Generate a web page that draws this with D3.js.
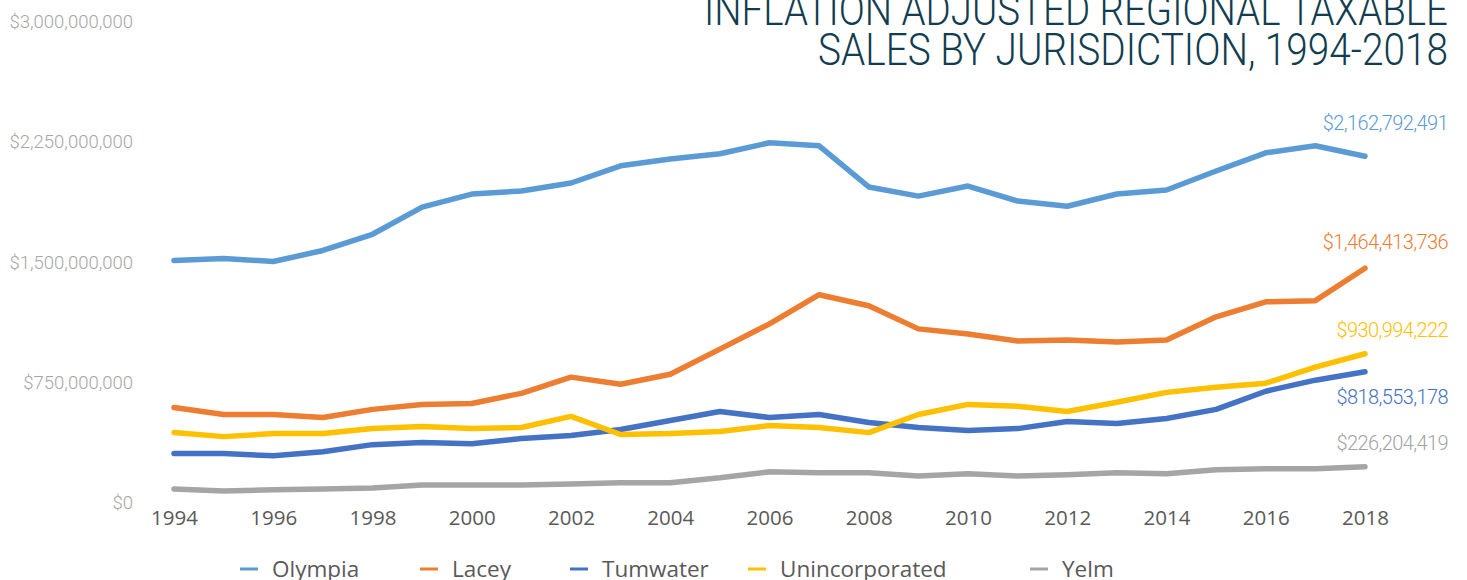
<!DOCTYPE html>
<html>
<head>
<meta charset="utf-8">
<script src="https://cdn.jsdelivr.net/npm/d3@7"></script>
<style>
  html, body { margin: 0; padding: 0; background: #ffffff; }
  svg { display: block; }
</style>
</head>
<body>
<div id="chart"></div>
<script>
// Taxable sales by jurisdiction, inflation adjusted (dollars)
const years = d3.range(1994, 2019);
const seriesNames = ["Olympia", "Lacey", "Tumwater", "Unincorporated", "Yelm"];
const seriesColors = ["#5b9bd5", "#ed7d31", "#4472c4", "#ffc000", "#a5a5a5"];

const olympia = [1513e6, 1525e6, 1506e6, 1575e6, 1676e6, 1845e6, 1927e6, 1946e6, 1996e6, 2103e6, 2146e6, 2178e6, 2247e6, 2228e6, 1971e6, 1914e6, 1977e6, 1883e6, 1851e6, 1927e6, 1952e6, 2071e6, 2184e6, 2228e6, 2162792491];
const lacey = [596e6, 552e6, 552e6, 533e6, 584e6, 615e6, 621e6, 684e6, 785e6, 741e6, 803e6, 960e6, 1117e6, 1299e6, 1230e6, 1086e6, 1054e6, 1010e6, 1017e6, 1004e6, 1017e6, 1161e6, 1255e6, 1262e6, 1464413736];
const tumwater = [308e6, 308e6, 295e6, 320e6, 364e6, 377e6, 370e6, 402e6, 421e6, 458e6, 515e6, 571e6, 533e6, 552e6, 502e6, 471e6, 452e6, 464e6, 508e6, 496e6, 527e6, 584e6, 697e6, 766e6, 818553178];
const unincorporated = [439e6, 414e6, 433e6, 433e6, 464e6, 477e6, 464e6, 471e6, 540e6, 427e6, 433e6, 446e6, 483e6, 471e6, 439e6, 552e6, 615e6, 603e6, 571e6, 628e6, 690e6, 722e6, 747e6, 847e6, 930994222];
const yelm = [88e6, 75e6, 82e6, 88e6, 94e6, 113e6, 113e6, 113e6, 119e6, 126e6, 126e6, 157e6, 195e6, 188e6, 188e6, 169e6, 182e6, 169e6, 176e6, 188e6, 182e6, 207e6, 213e6, 213e6, 226204419];

const yTicks = [0, 750e6, 1500e6, 2250e6, 3000e6];
const xTicks = d3.range(1994, 2019, 2);
const titleLines = ["INFLATION ADJUSTED REGIONAL TAXABLE", "SALES BY JURISDICTION, 1994-2018"];

const seriesValues = [olympia, lacey, tumwater, unincorporated, yelm];
const series = seriesNames.map((name, i) => ({
  name,
  color: seriesColors[i],
  values: seriesValues[i].map((v, j) => ({ year: years[j], value: v }))
}));

const W = 1467, H = 580;
const svg = d3.select("#chart").append("svg")
  .attr("width", W).attr("height", H);

const x = d3.scaleLinear().domain([1994, 2018]).range([174, 1365]);
const y = d3.scaleLinear().domain([0, 3000e6]).range([503, 22]);

// Y axis labels (no axis line, no gridlines)
const yAxis = d3.axisLeft(y)
  .tickValues(yTicks)
  .tickSize(0)
  .tickPadding(0)
  .tickFormat(d => "$" + d3.format(",")(d));
const gy = svg.append("g").attr("transform", "translate(133,0)").call(yAxis);
gy.select(".domain").remove();
gy.selectAll("text")
  .attr("fill", "#a6a6a6")
  .attr("dy", "0.3em")
  .style("font-family", "Roboto, sans-serif")
  .style("font-weight", "300")
  .style("font-size", "18.5px");

// X axis labels
const xAxis = d3.axisBottom(x)
  .tickValues(xTicks)
  .tickSize(0)
  .tickPadding(0)
  .tickFormat(d3.format("d"));
const gx = svg.append("g").attr("transform", "translate(0,510)").call(xAxis);
gx.select(".domain").remove();
gx.selectAll("text")
  .attr("fill", "#595959")
  .attr("dy", "0.71em")
  .style("font-family", "'Open Sans', sans-serif")
  .style("font-size", "20.5px");

// Lines
const line = d3.line()
  .x(d => x(d.year))
  .y(d => y(d.value));

svg.append("g").selectAll("path")
  .data(series)
  .join("path")
  .attr("d", d => line(d.values))
  .attr("fill", "none")
  .attr("stroke", d => d.color)
  .attr("stroke-width", 5.5)
  .attr("stroke-linejoin", "round")
  .attr("stroke-linecap", "round");

// Final-value labels at the right edge
const endLabelY = { Olympia: 123, Lacey: 242, Tumwater: 397, Unincorporated: 330, Yelm: 443 };
svg.append("g").selectAll("text")
  .data(series)
  .join("text")
  .attr("x", 1448)
  .attr("y", d => endLabelY[d.name])
  .attr("dy", "0.35em")
  .attr("text-anchor", "end")
  .attr("fill", d => d.color === "#a5a5a5" ? "#a3a3a3" : d.color)
  .style("font-family", "Roboto, sans-serif")
  .style("font-weight", "300")
  .style("font-size", "20px")
  .style("letter-spacing", "-0.6px")
  .text(d => "$" + d3.format(",")(d.values[d.values.length - 1].value));

// Title, right aligned
const title = svg.append("g");
const titleWidths = [744, 630];
titleLines.forEach((t, i) => {
  title.append("text")
    .attr("x", 1448)
    .attr("y", 25 + i * 40)
    .attr("text-anchor", "end")
    .attr("fill", "#123d50")
    .attr("textLength", titleWidths[i])
    .attr("lengthAdjust", "spacingAndGlyphs")
    .style("font-family", "Roboto, sans-serif")
    .style("font-weight", "300")
    .style("font-size", "45px")
    .text(t);
});

// Legend
const legendX = [240, 420, 570, 748, 1030];
const legend = svg.append("g").selectAll("g")
  .data(series)
  .join("g")
  .attr("transform", (d, i) => `translate(${legendX[i]},569)`);
legend.append("line")
  .attr("x1", 0).attr("x2", 18)
  .attr("stroke", d => d.color)
  .attr("stroke-width", 3);
legend.append("text")
  .attr("x", 32)
  .attr("dy", "0.35em")
  .attr("fill", "#595959")
  .style("font-family", "'Open Sans', sans-serif")
  .style("font-size", "22.5px")
  .text(d => d.name);
</script>
</body>
</html>
